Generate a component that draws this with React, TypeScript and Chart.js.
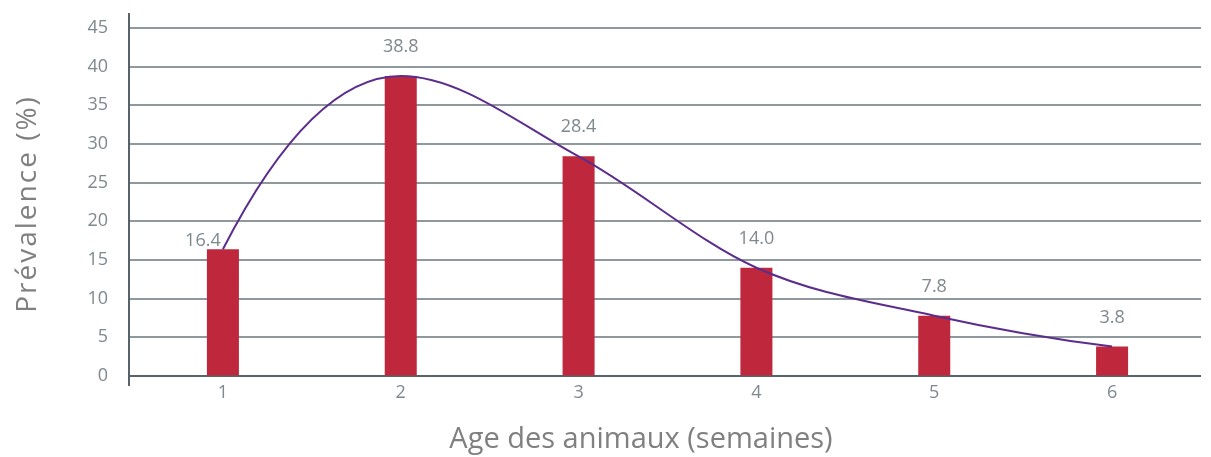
import React, { useEffect, useRef } from "react";
import { Chart, registerables } from "chart.js";

Chart.register(...registerables);

const categories = ["1", "2", "3", "4", "5", "6"];
const prevalence = [16.4, 38.8, 28.4, 14.0, 7.8, 3.8];
const valueLabels = ["16.4", "38.8", "28.4", "14.0", "7.8", "3.8"];
const yTicks = [0, 5, 10, 15, 20, 25, 30, 35, 40, 45];
const yTitle = "Prévalence (%)";
const xTitle = "Age des animaux (semaines)";

const GRAY_TEXT = "#7f888d";
const TITLE_GRAY = "#808080";
const GRID = "#8f999d";
const AXIS = "#56646a";
const TICK_FONT = "'Open Sans', Lato, sans-serif";
const TITLE_FONT = "'Open Sans', sans-serif";

// smooth curve: zero slope at local extrema, parabolic ends
const smoothPlugin = {
  id: "smoothCurve",
  beforeDatasetDraw(chart: any, args: any) {
    const meta = args.meta;
    if (meta.type !== "line") return;
    const line = meta.dataset;
    line.updateControlPoints(chart.chartArea, meta.iScale.axis);
    const pts = meta.data;
    const n = pts.length;
    const m: number[] = new Array(n).fill(0);
    for (let i = 1; i < n - 1; i++) {
      const a = pts[i].y - pts[i - 1].y;
      const b = pts[i + 1].y - pts[i].y;
      m[i] = a * b <= 0 ? 0 : (pts[i + 1].y - pts[i - 1].y) / (pts[i + 1].x - pts[i - 1].x);
    }
    const c0 = (pts[1].y - pts[0].y) / (pts[1].x - pts[0].x);
    const cn = (pts[n - 1].y - pts[n - 2].y) / (pts[n - 1].x - pts[n - 2].x);
    m[0] = 2 * c0 - m[1];
    m[n - 1] = 2 * cn - m[n - 2];
    for (let i = 0; i < n; i++) {
      const p = pts[i];
      const dxPrev = i > 0 ? (p.x - pts[i - 1].x) / 3 : 0;
      const dxNext = i < n - 1 ? (pts[i + 1].x - p.x) / 3 : 0;
      p.cp1x = p.x - dxPrev;
      p.cp1y = p.y - m[i] * dxPrev;
      p.cp2x = p.x + dxNext;
      p.cp2y = p.y + m[i] * dxNext;
    }
  },
};

const gridPlugin = {
  id: "customGrid",
  beforeDatasetsDraw(chart: any) {
    const { ctx, chartArea } = chart;
    const y = chart.scales.y;
    ctx.save();
    ctx.lineWidth = 2;
    yTicks.forEach((v) => {
      const py = Math.round(y.getPixelForValue(v));
      ctx.strokeStyle = v === 0 ? AXIS : GRID;
      ctx.beginPath();
      ctx.moveTo(chartArea.left - 5, py);
      ctx.lineTo(chartArea.right, py);
      ctx.stroke();
    });
    ctx.strokeStyle = AXIS;
    ctx.beginPath();
    ctx.moveTo(chartArea.left - 5, chartArea.top - 15);
    ctx.lineTo(chartArea.left - 5, chartArea.bottom + 10);
    ctx.stroke();
    // y axis title
    ctx.save();
    ctx.translate(28, (chartArea.top + chartArea.bottom) / 2 + 3);
    ctx.rotate(-Math.PI / 2);
    ctx.fillStyle = TITLE_GRAY;
    ctx.font = `28px ${TITLE_FONT}`;
    (ctx as any).letterSpacing = "2px";
    ctx.textAlign = "center";
    ctx.textBaseline = "middle";
    ctx.fillText(yTitle, 1, 0);
    ctx.restore();
    // x axis title
    ctx.save();
    ctx.fillStyle = TITLE_GRAY;
    ctx.font = `29px ${TITLE_FONT}`;
    ctx.textAlign = "center";
    ctx.textBaseline = "middle";
    ctx.fillText(xTitle, 641, chart.height - 17);
    ctx.restore();
    ctx.restore();
  },
};

const labelPlugin = {
  id: "valueLabels",
  afterDatasetsDraw(chart: any) {
    const meta = chart.getDatasetMeta(1);
    const ctx = chart.ctx;
    ctx.save();
    ctx.fillStyle = GRAY_TEXT;
    ctx.font = `18px ${TICK_FONT}`;
    ctx.textAlign = "center";
    ctx.textBaseline = "middle";
    meta.data.forEach((bar: any, i: number) => {
      const dx = i === 0 ? -20 : 0;
      const dy = i === 0 ? -8 : -29;
      ctx.fillText(valueLabels[i], bar.x + dx, bar.y + dy);
    });
    ctx.restore();
  },
};

export default function App() {
  const ref = useRef<HTMLCanvasElement | null>(null);
  useEffect(() => {
    if (!ref.current) return;
    const chart = new Chart(ref.current, {
      type: "bar",
      data: {
        labels: categories,
        datasets: [
          {
            type: "line",
            data: prevalence,
            borderColor: "#5b2d8c",
            borderWidth: 2,
            pointRadius: 0,
            tension: 0.4,
            fill: false,
            order: 0,
          } as any,
          {
            type: "bar",
            data: prevalence,
            backgroundColor: "#bf283c",
            barPercentage: 0.18,
            categoryPercentage: 1,
            order: 1,
          },
        ],
      },
      options: {
        animation: false,
        responsive: false,
        maintainAspectRatio: false,
        layout: { padding: { left: 0, right: 10, top: 28, bottom: 0 } },
        plugins: {
          legend: { display: false },
          tooltip: { enabled: false },
        },
        scales: {
          x: {
            offset: true,
            grid: { display: false, drawTicks: false },
            border: { display: false },
            ticks: {
              color: GRAY_TEXT,
              font: { family: TICK_FONT, size: 18 },
              padding: 6,
            },
            title: { display: false },
            afterFit(scale: any) {
              scale.height = 81;
            },
          },
          y: {
            min: 0,
            max: 45,
            afterBuildTicks(scale: any) {
              scale.ticks = yTicks.map((v) => ({ value: v }));
            },
            grid: {
              display: true,
              drawOnChartArea: false,
              drawTicks: true,
              tickLength: 20,
              color: "rgba(0,0,0,0)",
            },
            border: { display: false },
            ticks: {
              color: GRAY_TEXT,
              font: { family: TICK_FONT, size: 18 },
              padding: 6,
            },
            title: { display: false },
            afterFit(scale: any) {
              scale.width = 134;
            },
          },
        },
      },
      plugins: [gridPlugin, smoothPlugin, labelPlugin],
    });
    return () => chart.destroy();
  }, []);
  return (
    <div style={{ position: "fixed", left: 0, top: 0, width: 1211, height: 457, background: "#fff" }}>
      <canvas ref={ref} width={1211} height={457} style={{ width: 1211, height: 457 }} />
    </div>
  );
}
